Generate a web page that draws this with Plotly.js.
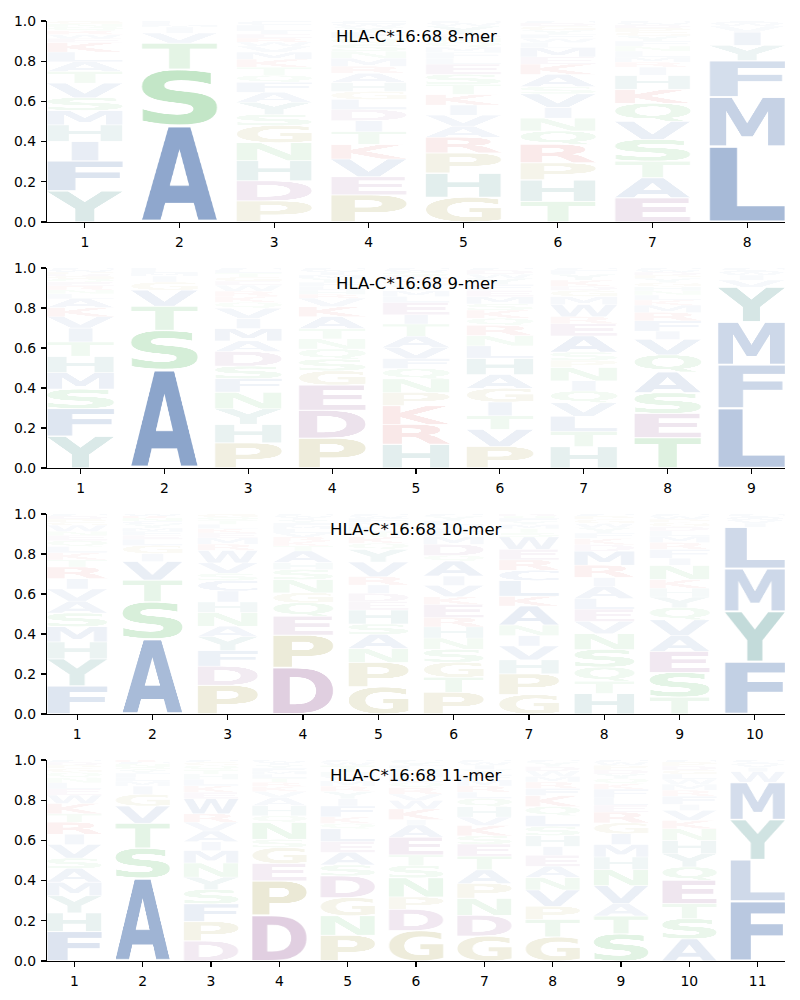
<!DOCTYPE html>
<html><head><meta charset="utf-8">
<script src="https://cdn.plot.ly/plotly-3.0.1.min.js"></script>
<style>body{margin:0;background:#fff}#chart{width:800px;height:1000px}</style>
</head><body><div id="chart"></div>
<script>
// ---------- DATA (letters listed bottom -> top for each position) ----------
const titles = ["HLA-C*16:68 8-mer", "HLA-C*16:68 9-mer", "HLA-C*16:68 10-mer", "HLA-C*16:68 11-mer"];
const yTicks = [0.0, 0.2, 0.4, 0.6, 0.8, 1.0];

const letters8 = [
  "YFIHMSVTALKEWRQNG",
  "ASTVIMLF",
  "PDHNGSYAFQTKMVWREILC",
  "PEVKTIDLGHARMNSQFYWC",
  "GHPRAVIKTSELFMQNDYWC",
  "THPRQNIVSAKEMLWFYGDC",
  "EATSVQKHIRMLNFYGPDWC",
  "LMFYIVWA"
];
const heights8 = [
  [0.16,0.155,0.10,0.085,0.075,0.065,0.075,0.06,0.05,0.05,0.05,0.02,0.02,0.02,0.02,0.015,0.015],
  [0.48,0.28,0.13,0.05,0.03,0.01,0.01,0.01],
  [0.105,0.10,0.10,0.09,0.085,0.055,0.06,0.05,0.05,0.035,0.04,0.04,0.035,0.03,0.02,0.02,0.02,0.015,0.03,0.02],
  [0.135,0.09,0.088,0.073,0.063,0.055,0.055,0.05,0.04,0.045,0.045,0.035,0.04,0.035,0.035,0.03,0.03,0.025,0.015,0.015],
  [0.123,0.12,0.10,0.078,0.055,0.055,0.05,0.053,0.05,0.05,0.05,0.03,0.03,0.025,0.025,0.02,0.02,0.04,0.015,0.01],
  [0.10,0.105,0.083,0.09,0.065,0.063,0.053,0.065,0.035,0.06,0.05,0.035,0.045,0.025,0.02,0.02,0.02,0.02,0.015,0.01],
  [0.12,0.10,0.083,0.108,0.09,0.09,0.07,0.07,0.04,0.025,0.025,0.03,0.025,0.025,0.025,0.02,0.02,0.015,0.01,0.01],
  [0.375,0.245,0.18,0.075,0.066,0.03,0.015,0.01]
];

const letters9 = [
  "YFSMHTIVKALNREQGDPWC",
  "ASTVGIMLF",
  "PHYNFSDAMIVQKRWEGTLC",
  "PDEGSQNTAKVRHLFYMIWC",
  "HRKPNQFVATIELMYGDSWC",
  "PVTIGAHLNRQKSMEFYWDC",
  "HTLVQINPSAERWMGDKYFC",
  "TESAQVIFRMKLNHGYPDWC",
  "LFMYVIWAC"
];
const heights9 = [
  [0.16,0.14,0.098,0.083,0.083,0.072,0.07,0.058,0.045,0.045,0.025,0.02,0.02,0.02,0.015,0.015,0.01,0.01,0.01,0.01],
  [0.49,0.195,0.12,0.08,0.04,0.03,0.015,0.015,0.01],
  [0.125,0.092,0.077,0.083,0.067,0.062,0.072,0.053,0.062,0.05,0.05,0.03,0.03,0.025,0.03,0.02,0.02,0.02,0.015,0.01],
  [0.147,0.138,0.125,0.07,0.058,0.05,0.05,0.05,0.06,0.05,0.04,0.02,0.02,0.02,0.02,0.02,0.015,0.015,0.01,0.01],
  [0.117,0.097,0.092,0.065,0.067,0.05,0.05,0.055,0.055,0.06,0.045,0.06,0.03,0.03,0.025,0.025,0.02,0.02,0.01,0.01],
  [0.105,0.083,0.067,0.067,0.067,0.067,0.08,0.06,0.05,0.05,0.035,0.04,0.03,0.035,0.03,0.03,0.03,0.02,0.02,0.01],
  [0.105,0.075,0.075,0.067,0.058,0.05,0.067,0.035,0.04,0.08,0.06,0.035,0.06,0.04,0.03,0.02,0.03,0.03,0.02,0.01],
  [0.147,0.117,0.10,0.10,0.083,0.075,0.04,0.05,0.04,0.035,0.025,0.025,0.02,0.02,0.02,0.02,0.015,0.015,0.01,0.01],
  [0.297,0.217,0.213,0.172,0.035,0.025,0.015,0.01,0.01]
];

const letters10 = [
  "FYHMSAVIRTKLQENWGPDC",
  "ASTVIGLEFMYCNKW",
  "PDFYANHICSVWRMEKLTQG",
  "DPEQGNSHATKRVLMFYIWC",
  "GPNASHEDIRVYQKTLMFWC",
  "PTGSNHREKVIAQDMFWLYC",
  "GPHVINAKLCREWSTMYFQD",
  "HTQSNVELAIRMDKFYWGPC",
  "TSEAVQYHKNIFRMLDGPWC",
  "FYMLIVWAC"
];
const heights10 = [
  [0.138,0.133,0.083,0.075,0.067,0.058,0.06,0.05,0.058,0.035,0.035,0.03,0.03,0.025,0.02,0.03,0.015,0.015,0.015,0.01],
  [0.372,0.183,0.108,0.092,0.04,0.04,0.03,0.02,0.02,0.015,0.02,0.015,0.015,0.01,0.01],
  [0.138,0.092,0.075,0.067,0.05,0.067,0.05,0.053,0.05,0.035,0.05,0.06,0.03,0.03,0.025,0.02,0.02,0.02,0.015,0.015],
  [0.233,0.162,0.095,0.067,0.05,0.067,0.05,0.035,0.058,0.025,0.025,0.02,0.02,0.02,0.015,0.015,0.015,0.01,0.01,0.01],
  [0.13,0.117,0.067,0.067,0.05,0.067,0.04,0.04,0.04,0.04,0.07,0.06,0.03,0.03,0.025,0.025,0.02,0.02,0.01,0.01],
  [0.097,0.067,0.067,0.058,0.05,0.05,0.042,0.058,0.035,0.05,0.042,0.067,0.025,0.05,0.035,0.025,0.025,0.02,0.02,0.01],
  [0.093,0.10,0.067,0.067,0.05,0.05,0.092,0.047,0.075,0.05,0.05,0.05,0.06,0.02,0.02,0.02,0.015,0.015,0.01,0.01],
  [0.097,0.058,0.067,0.083,0.075,0.058,0.058,0.05,0.058,0.042,0.058,0.067,0.03,0.03,0.025,0.025,0.02,0.02,0.015,0.01],
  [0.08,0.117,0.10,0.075,0.075,0.058,0.05,0.042,0.042,0.067,0.033,0.042,0.033,0.03,0.025,0.02,0.02,0.015,0.015,0.01],
  [0.26,0.25,0.213,0.205,0.02,0.015,0.01,0.01,0.01]
];

const letters11 = [
  "FHYMASVIRTKWELNQGPDC",
  "ASTVGIMLFYQNCK",
  "DPFSYNMIAVRWEKLHTQGC",
  "DPEGSNQHAVKRTLMFYIWC",
  "PNGDSAELQKFIYRMVHTWC",
  "GDPNSTEAIKWVRQLMHFYC",
  "GDNPATESKVHQLRMFYIWC",
  "GTPVNAEIHSLQKFRMWDYC",
  "STAVNHMIGRELFKQYDPWC",
  "ASTEQYHNKVIFRMWLGDPC",
  "FLYMWIVAC"
];
const heights11 = [
  [0.143,0.09,0.083,0.066,0.066,0.05,0.066,0.05,0.058,0.041,0.05,0.04,0.03,0.03,0.025,0.025,0.02,0.015,0.015,0.01],
  [0.413,0.149,0.124,0.086,0.058,0.041,0.025,0.02,0.02,0.015,0.015,0.015,0.01,0.01],
  [0.093,0.09,0.083,0.066,0.058,0.066,0.058,0.041,0.05,0.04,0.04,0.07,0.03,0.03,0.03,0.025,0.02,0.02,0.015,0.01],
  [0.225,0.17,0.086,0.078,0.041,0.083,0.033,0.05,0.04,0.03,0.025,0.02,0.02,0.02,0.015,0.015,0.015,0.01,0.01,0.005],
  [0.118,0.09,0.083,0.10,0.05,0.058,0.05,0.058,0.025,0.03,0.05,0.033,0.033,0.025,0.025,0.02,0.02,0.03,0.015,0.01],
  [0.143,0.10,0.058,0.09,0.058,0.05,0.083,0.058,0.025,0.05,0.04,0.03,0.03,0.025,0.025,0.02,0.02,0.015,0.015,0.01],
  [0.12,0.10,0.083,0.07,0.066,0.066,0.058,0.04,0.05,0.04,0.05,0.04,0.03,0.03,0.03,0.025,0.025,0.02,0.015,0.01],
  [0.11,0.08,0.06,0.075,0.058,0.05,0.05,0.041,0.05,0.041,0.05,0.041,0.05,0.033,0.03,0.025,0.025,0.02,0.02,0.01],
  [0.126,0.083,0.058,0.083,0.075,0.058,0.058,0.05,0.05,0.05,0.033,0.033,0.041,0.025,0.025,0.02,0.02,0.02,0.015,0.01],
  [0.11,0.10,0.075,0.116,0.066,0.066,0.066,0.058,0.041,0.05,0.03,0.04,0.03,0.03,0.025,0.025,0.02,0.02,0.02,0.01],
  [0.284,0.196,0.19,0.177,0.05,0.02,0.015,0.01,0.01]
];

// ---------- STYLE ----------
const groupColors = {
  blue: "#2c5aa0", green: "#3fae4a", teal: "#2a7f7a",
  purple: "#864286", olive: "#968c28", red: "#c83232"
};
const letterGroup = {
  A:"blue",V:"blue",L:"blue",I:"blue",M:"blue",F:"blue",W:"blue",C:"blue",
  S:"green",T:"green",N:"green",Q:"green",
  Y:"teal",H:"teal",
  D:"purple",E:"purple",
  P:"olive",G:"olive",
  K:"red",R:"red"
};
const panels = [
  {title: titles[0], letters: letters8, heights: heights8},
  {title: titles[1], letters: letters9, heights: heights9},
  {title: titles[2], letters: letters10, heights: heights10},
  {title: titles[3], letters: letters11, heights: heights11}
];
const domains = [[0.7862, 1.0], [0.5245, 0.7372], [0.2628, 0.4755], [0.0, 0.2138]];
const FONT = "DejaVu Sans";

// glyph bitmaps (tight bounding box, stretched later by Plotly image sizing)
const glyphCache = {};
function glyph(ch) {
  if (glyphCache[ch]) return glyphCache[ch];
  const fs = 160;
  const c = document.createElement("canvas");
  let ctx = c.getContext("2d");
  ctx.font = "bold " + fs + "px '" + FONT + "'";
  const m = ctx.measureText(ch);
  const l = m.actualBoundingBoxLeft, r = m.actualBoundingBoxRight;
  const a = m.actualBoundingBoxAscent, d = m.actualBoundingBoxDescent;
  c.width = Math.max(1, Math.ceil(l + r));
  c.height = Math.max(1, Math.ceil(a + d));
  ctx = c.getContext("2d");
  ctx.font = "bold " + fs + "px '" + FONT + "'";
  ctx.fillStyle = groupColors[letterGroup[ch]];
  ctx.textBaseline = "alphabetic";
  ctx.fillText(ch, l, a);
  glyphCache[ch] = c.toDataURL("image/png");
  return glyphCache[ch];
}

const layout = {
  width: 800, height: 1000,
  margin: {l: 47, r: 15, t: 21, b: 39},
  paper_bgcolor: "#ffffff", plot_bgcolor: "#ffffff",
  showlegend: false,
  font: {family: FONT, size: 13.9, color: "#000000"},
  images: [], annotations: []
};
const data = [];

panels.forEach((p, i) => {
  const s = i === 0 ? "" : String(i + 1);
  const n = p.letters.length;
  const positions = p.letters.map((_, j) => j + 1);
  layout["xaxis" + s] = {
    domain: [0, 1], anchor: "y" + s, range: [0.6, n + 0.4],
    tickvals: positions, ticktext: positions.map(String),
    showline: true, linecolor: "#000", linewidth: 1.1,
    ticks: "outside", ticklen: 5, tickwidth: 1.1, tickcolor: "#000",
    ticklabelstandoff: 2,
    showgrid: false, zeroline: false, fixedrange: true
  };
  layout["yaxis" + s] = {
    domain: domains[i], anchor: "x" + s, range: [0, 1],
    tickvals: yTicks, ticktext: yTicks.map(v => v.toFixed(1)),
    showline: true, linecolor: "#000", linewidth: 1.1,
    ticks: "outside", ticklen: 5, tickwidth: 1.1, tickcolor: "#000",
    ticklabelstandoff: 2,
    showgrid: false, zeroline: false, fixedrange: true
  };
  data.push({
    type: "scatter", mode: "markers", x: positions, y: positions.map(() => 0),
    xaxis: "x" + s, yaxis: "y" + s, marker: {opacity: 0}, hoverinfo: "skip"
  });
  layout.annotations.push({
    text: p.title, showarrow: false,
    xref: "x" + s + " domain", yref: "y" + s + " domain",
    x: 0.5, y: 0.925, xanchor: "center", yanchor: "middle",
    font: {family: FONT, size: 16.5, color: "#000"}
  });
  p.letters.forEach((str, j) => {
    const hs = p.heights[j];
    const total = hs.reduce((u, v) => u + v, 0);
    let bottom = 0;
    str.split("").forEach((ch, k) => {
      const h = hs[k] / total;
      const pad = 0.02 * h;
      const wFrac = ch === "I" ? 0.36 : 1.0;
      const w = 0.8 * wFrac;
      layout.images.push({
        source: glyph(ch), xref: "x" + s, yref: "y" + s,
        x: (j + 1) - w / 2, y: bottom + h - pad,
        sizex: w, sizey: h - 2 * pad,
        sizing: "stretch", xanchor: "left", yanchor: "top",
        opacity: Math.min(1, Math.max(0.03, 1.1 * h)), layer: "above"
      });
      bottom += h;
    });
  });
});

Plotly.newPlot("chart", data, layout, {staticPlot: true, displayModeBar: false});
</script></body></html>
